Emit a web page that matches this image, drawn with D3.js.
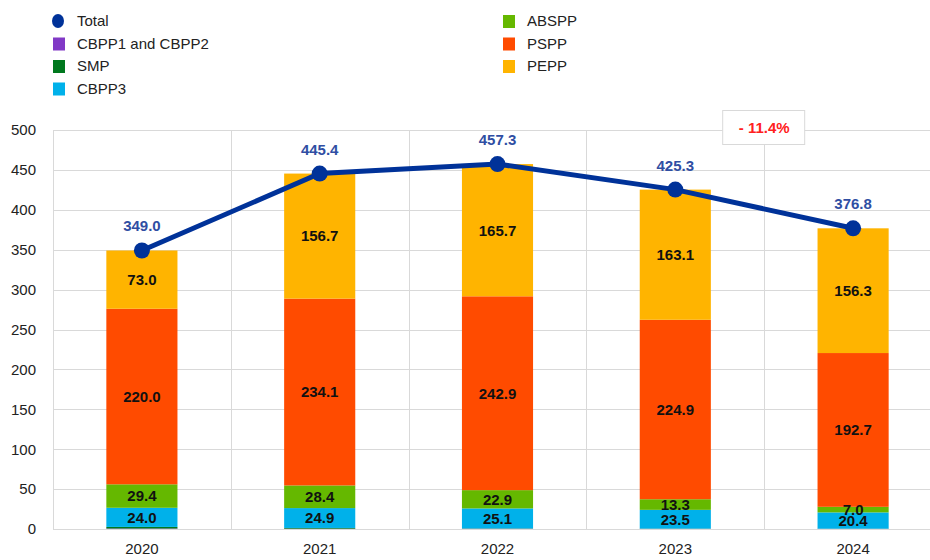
<!DOCTYPE html>
<html>
<head>
<meta charset="utf-8">
<script src="https://cdn.jsdelivr.net/npm/d3@7"></script>
<style>
  body { margin: 0; background: #fff; font-family: "Liberation Sans", Arial, sans-serif; }
  .grid line { stroke: #d9d9d9; stroke-width: 1; }
  .tick text { fill: #222; font-size: 15px; }
</style>
</head>
<body>
<div id="chart"></div>
<script>
// Data
const YEARS = ['2020', '2021', '2022', '2023', '2024'];
const CBPP12 = [0.6, 0.4, 0.3, 0.2, 0.2];
const SMP = [2.0, 0.9, 0.4, 0.3, 0.2];
const CBPP3 = [24.0, 24.9, 25.1, 23.5, 20.4];
const ABSPP = [29.4, 28.4, 22.9, 13.3, 7.0];
const PSPP = [220.0, 234.1, 242.9, 224.9, 192.7];
const PEPP = [73.0, 156.7, 165.7, 163.1, 156.3];
const TOTAL = [349.0, 445.4, 457.3, 425.3, 376.8];
const Y_TICKS = [0, 50, 100, 150, 200, 250, 300, 350, 400, 450, 500];
const CHANGE_LABEL = '- 11.4%';

const SERIES = [
  {key: 'CBPP1 and CBPP2', values: CBPP12, color: '#8139c6', label: false},
  {key: 'SMP', values: SMP, color: '#00781e', label: false},
  {key: 'CBPP3', values: CBPP3, color: '#00b1ea', label: true},
  {key: 'ABSPP', values: ABSPP, color: '#65b800', label: true},
  {key: 'PSPP', values: PSPP, color: '#ff4b00', label: true},
  {key: 'PEPP', values: PEPP, color: '#ffb400', label: true}
];
const TOTAL_COLOR = '#003299';

const WIDTH = 930, HEIGHT = 560;
const MARGIN = {top: 130, right: -12, bottom: 31, left: 53};
const innerW = WIDTH - MARGIN.left - MARGIN.right;
const innerH = HEIGHT - MARGIN.top - MARGIN.bottom;

const svg = d3.select('#chart').append('svg')
  .attr('width', WIDTH)
  .attr('height', HEIGHT);

const g = svg.append('g')
  .attr('transform', `translate(${MARGIN.left}, ${MARGIN.top})`);

// Scales
const x = d3.scaleBand().domain(YEARS).range([0, innerW]).paddingInner(0).paddingOuter(0);
const y = d3.scaleLinear().domain([0, 500]).range([innerH, 0]);
const barW = x.bandwidth() * 0.4;
const cx = d => x(d) + x.bandwidth() / 2;

// Gridlines
const grid = g.append('g').attr('class', 'grid');
grid.selectAll('line.h').data(Y_TICKS).enter().append('line')
  .attr('x1', 0).attr('x2', innerW)
  .attr('y1', d => Math.round(y(d)) + 0.5).attr('y2', d => Math.round(y(d)) + 0.5);
grid.selectAll('line.v').data(YEARS.concat(['end'])).enter().append('line')
  .attr('x1', (d, i) => Math.round(i * x.bandwidth()) + 0.5)
  .attr('x2', (d, i) => Math.round(i * x.bandwidth()) + 0.5)
  .attr('y1', 0).attr('y2', innerH);

// Axes
const yAxis = d3.axisLeft(y).tickValues(Y_TICKS).tickSize(0).tickPadding(17);
g.append('g').call(yAxis).call(s => s.select('.domain').remove());

const xAxis = d3.axisBottom(x).tickSize(0).tickPadding(14);
g.append('g').attr('transform', `translate(0, ${innerH})`)
  .call(xAxis).call(s => s.select('.domain').remove());

// Stacked bars
const rows = YEARS.map((yr, i) => {
  const r = {year: yr};
  SERIES.forEach(s => r[s.key] = s.values[i]);
  return r;
});
const stack = d3.stack().keys(SERIES.map(s => s.key))(rows);

const layers = g.selectAll('g.layer').data(stack).enter().append('g')
  .attr('class', 'layer')
  .attr('fill', (d, i) => SERIES[i].color);

layers.selectAll('rect').data(d => d).enter().append('rect')
  .attr('x', d => cx(d.data.year) - barW / 2)
  .attr('width', barW)
  .attr('y', d => y(d[1]))
  .attr('height', d => y(d[0]) - y(d[1]));

// Segment labels
stack.forEach((layer, i) => {
  if (!SERIES[i].label) return;
  g.append('g').selectAll('text').data(layer).enter().append('text')
    .attr('x', d => cx(d.data.year))
    .attr('y', d => (y(d[0]) + y(d[1])) / 2)
    .attr('dy', '0.36em')
    .attr('text-anchor', 'middle')
    .attr('font-size', '15px')
    .attr('font-weight', 'bold')
    .attr('fill', '#111')
    .text(d => (d[1] - d[0]).toFixed(1));
});

// Total line
const line = d3.line().x((d, i) => cx(YEARS[i])).y(d => y(d));
g.append('path').datum(TOTAL)
  .attr('d', line)
  .attr('fill', 'none')
  .attr('stroke', TOTAL_COLOR)
  .attr('stroke-width', 5);

g.selectAll('circle.total').data(TOTAL).enter().append('circle')
  .attr('cx', (d, i) => cx(YEARS[i]))
  .attr('cy', d => y(d))
  .attr('r', 8)
  .attr('fill', TOTAL_COLOR);

g.selectAll('text.total').data(TOTAL).enter().append('text')
  .attr('x', (d, i) => cx(YEARS[i]))
  .attr('y', d => y(d) - 19)
  .attr('text-anchor', 'middle')
  .attr('font-size', '15px')
  .attr('font-weight', 'bold')
  .attr('fill', '#2f4ea3')
  .text(d => d.toFixed(1));

// Change annotation box
const boxX = 4 * x.bandwidth();
const box = g.append('g').attr('transform', `translate(${boxX}, ${-1})`);
box.append('rect')
  .attr('x', -41.5).attr('y', -18.5)
  .attr('width', 82).attr('height', 34)
  .attr('fill', '#fff')
  .attr('stroke', '#d9d9d9');
box.append('text')
  .attr('x', 0).attr('y', -1)
  .attr('dy', '0.36em')
  .attr('text-anchor', 'middle')
  .attr('font-size', '15px')
  .attr('font-weight', 'bold')
  .attr('fill', '#ff2020')
  .text(CHANGE_LABEL);

// Legend
const LEGEND = [
  {key: 'Total', color: TOTAL_COLOR, dot: true, col: 0, row: 0},
  {key: 'CBPP1 and CBPP2', color: SERIES[0].color, col: 0, row: 1},
  {key: 'SMP', color: SERIES[1].color, col: 0, row: 2},
  {key: 'CBPP3', color: SERIES[2].color, col: 0, row: 3},
  {key: 'ABSPP', color: SERIES[3].color, col: 1, row: 0},
  {key: 'PSPP', color: SERIES[4].color, col: 1, row: 1},
  {key: 'PEPP', color: SERIES[5].color, col: 1, row: 2}
];
const legend = svg.append('g');
const item = legend.selectAll('g').data(LEGEND).enter().append('g')
  .attr('transform', d => `translate(${d.col ? 503 : 53}, ${21 + d.row * 22.5})`);
item.filter(d => d.dot).append('ellipse')
  .attr('cx', 5).attr('cy', 0).attr('rx', 6).attr('ry', 7)
  .attr('fill', d => d.color);
item.filter(d => !d.dot).append('rect')
  .attr('x', 0).attr('y', -6).attr('width', 12).attr('height', 13)
  .attr('fill', d => d.color);
item.append('text')
  .attr('x', 24).attr('y', 0).attr('dy', '0.36em')
  .attr('font-size', '15px')
  .attr('fill', '#222')
  .text(d => d.key);
</script>
</body>
</html>
